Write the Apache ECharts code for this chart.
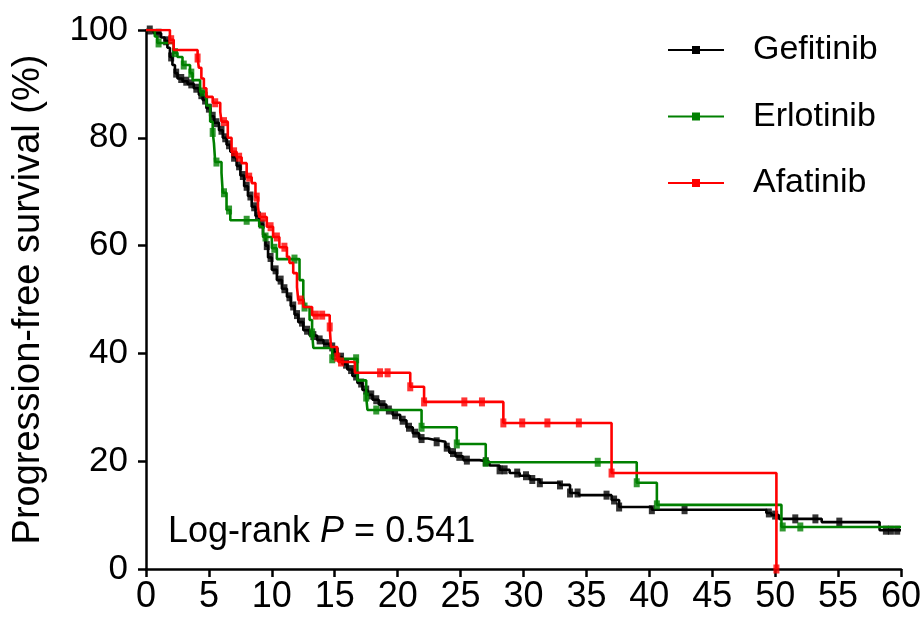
<!DOCTYPE html>
<html>
<head>
<meta charset="utf-8">
<script src="https://cdn.jsdelivr.net/npm/echarts@6/dist/echarts.min.js"></script>
<style>
  html, body { margin: 0; padding: 0; background: #fff; }
  #main { width: 924px; height: 627px; }
</style>
</head>
<body>
<div id="main"></div>
<script>
// Kaplan-Meier steps: [month, survival %] (value after the drop)
var gefitinibSteps = [
    [0, 100], [0.6, 99.4], [1.2, 98.6], [1.5, 98], [1.7, 96.7], [1.9, 95], [2.1, 93.5], [2.3, 92],
    [2.5, 91], [2.9, 90.5], [3.3, 90], [3.8, 89.2], [4.2, 88], [4.5, 87], [4.8, 85.5], [5.1, 84],
    [5.4, 82.8], [5.8, 81.4], [6.1, 80], [6.4, 78.7], [6.7, 77.4], [6.9, 76.4], [7.2, 74.8], [7.5, 73],
    [7.8, 71], [8.1, 69.2], [8.4, 67.2], [8.7, 65.5], [9.0, 64], [9.3, 62], [9.5, 60], [9.7, 57.8],
    [10.0, 55.5], [10.4, 53.6], [10.8, 52], [11.2, 50.5], [11.5, 48.8], [11.8, 47.2], [12.1, 45.8],
    [12.5, 44.3], [13.0, 43.3], [13.6, 42.5], [14.1, 41.8], [14.6, 41.2], [14.9, 40.2], [15.2, 39.3],
    [15.6, 38], [16.0, 37], [16.4, 35.8], [16.8, 34.5], [17.2, 33.2], [17.6, 32.3], [18.0, 31.4],
    [18.5, 30.5], [19.1, 29.5], [19.6, 28.6], [20.2, 27.6], [20.7, 26.3], [21.2, 25.2], [21.7, 24.2],
    [22.4, 23.9], [23.1, 23.6], [23.8, 22.6], [24.1, 21.6], [24.6, 20.9], [25.2, 20.2], [26.5, 19.9],
    [27.3, 19.2], [28.1, 18.4], [28.9, 17.8], [29.7, 17.3], [30.5, 16.6], [31.3, 16], [32.9, 15.6],
    [33.7, 14.1], [34.4, 13.7], [37.0, 12.8], [37.6, 11.5], [40.2, 11.0], [49.3, 10.4], [49.7, 10],
    [50.3, 9.3], [53.7, 8.7], [58.3, 7.2], [60, 7.2]
];
var erlotinibSteps = [
    [0, 100], [0.7, 98.8], [0.9, 97.6], [2.2, 95.8], [2.5, 95], [2.9, 93.5], [3.5, 92], [3.7, 90.7],
    [4.3, 88.5], [4.8, 86], [5.1, 83], [5.3, 81], [5.4, 79], [5.5, 75.5], [6.0, 73.5], [6.1, 69.8],
    [6.4, 66.6], [6.7, 64.7], [9.0, 63.5], [9.3, 61.6], [10.0, 59.5], [10.4, 57.5], [12.2, 53.6],
    [12.5, 50.5], [12.6, 48.6], [13.0, 46.2], [13.2, 43.8], [13.3, 41], [14.8, 39], [16.8, 35],
    [17.5, 31.9], [17.6, 29.5], [21.9, 26.3], [24.7, 23.2], [27.0, 19.8], [39.0, 16], [40.6, 11.9],
    [50.5, 7.8], [60, 7.8]
];
var afatinibSteps = [
    [0, 100], [1.9, 98.2], [2.2, 96.3], [4.1, 94.8], [4.2, 93], [4.4, 91], [4.6, 89.2], [4.8, 87.6],
    [5.3, 86.5], [5.9, 84.8], [6.0, 83], [6.5, 80], [6.8, 77.4], [7.2, 76.4], [7.6, 75.3], [8.0, 72.7],
    [8.4, 71.6], [8.7, 69], [8.9, 67.2], [9.0, 65.3], [9.6, 63.5], [10.1, 61.6], [10.6, 59.7],
    [11.2, 57.9], [11.4, 56.8], [11.7, 54.9], [12.0, 52.3], [12.1, 49.9], [12.5, 48.6], [13.2, 47.1],
    [14.6, 44.9], [14.7, 41.2], [15.2, 39.3], [15.3, 38.4], [16.6, 36.4], [21.0, 33.8], [22.1, 31],
    [28.4, 27.1], [37.0, 17.8], [50.1, 0]
];

// censoring times (months)
var gefitinibCensor = [
    0.3, 1.0, 1.6, 2.0, 2.4, 2.8, 3.2, 3.6, 4.0, 4.4, 4.7, 5.0, 5.3, 5.6, 6.0, 6.3, 6.6, 7.0, 7.4,
    7.7, 8.0, 8.3, 8.6, 8.9, 9.2, 9.6, 9.9, 10.3, 10.7, 11.0, 11.4, 11.7, 12.0, 12.4, 12.8, 13.3,
    13.8, 14.3, 14.8, 15.1, 15.5, 15.9, 16.3, 16.7, 17.1, 17.5, 17.9, 18.3, 18.8, 19.3, 19.8, 20.4,
    20.9, 21.4, 21.9, 23.1, 23.9, 24.4, 24.9, 25.5, 27.0, 28.1, 28.5, 29.5, 30.2, 30.7, 31.3, 32.9,
    33.7, 34.3, 36.6, 37.2, 37.6, 40.2, 42.8, 49.5, 50.0, 51.6, 53.2, 55.1, 58.8, 59.2, 59.7
];
var erlotinibCensor = [
    1.0, 2.3, 3.0, 3.6, 4.5, 5.3, 5.6, 6.2, 6.6, 8.0, 9.5, 10.2, 11.8, 12.6, 13.2, 14.8, 16.7,
    17.5, 18.3, 21.9, 24.7, 27.0, 35.9, 39.0, 40.6, 50.6, 52.0
];
var afatinibCensor = [
    2.0, 4.1, 5.5, 6.2, 7.0, 7.4, 8.2, 8.8, 9.3, 9.9, 10.4, 11.0, 12.3, 13.5, 14.0, 14.6, 15.2,
    15.5, 18.6, 19.2, 21.0, 22.1, 25.3, 26.7, 28.4, 29.9, 31.9, 34.4, 37.0, 50.1
];

var groups = ['Gefitinib', 'Erlotinib', 'Afatinib'];
var colors = ['#000000', '#008000', '#ff0000'];
var xTicks = { min: 0, max: 60, interval: 5 };
var yTicks = { min: 0, max: 100, interval: 20 };

// survival value of a step curve at time t
function survAt(steps, t) {
    var s = steps[0][1];
    for (var i = 0; i < steps.length; i++) {
        if (steps[i][0] <= t) s = steps[i][1];
    }
    return s;
}

function censorPoints(steps, times) {
    return times.map(function (t) { return [t, survAt(steps, t)]; });
}

var allSteps = [gefitinibSteps, erlotinibSteps, afatinibSteps];
var allCensor = [gefitinibCensor, erlotinibCensor, afatinibCensor];

var series = [];
groups.forEach(function (name, i) {
    series.push({
        name: name,
        type: 'line',
        step: 'end',
        data: allSteps[i],
        showSymbol: false,
        symbol: 'rect',
        symbolSize: [6, 8],
        lineStyle: { color: colors[i], width: 2.6 },
        itemStyle: { color: colors[i] },
        z: 2 + i,
        animation: false
    });
    series.push({
        name: name + ' censored',
        type: 'scatter',
        data: censorPoints(allSteps[i], allCensor[i]),
        symbol: 'rect',
        symbolSize: [6, 9],
        itemStyle: { color: colors[i] },
        z: 2 + i,
        animation: false
    });
});

var chart = echarts.init(document.getElementById('main'));
var font = 'Liberation Sans, Arial, sans-serif';

chart.setOption({
    backgroundColor: '#fff',
    animation: false,
    grid: { left: 146, right: 22, top: 30, bottom: 58 },
    legend: {
        data: groups,
        orient: 'vertical',
        left: 662,
        top: 28,
        itemWidth: 56,
        itemHeight: 10,
        itemGap: 32.5,
        textStyle: { fontSize: 34, color: '#000', fontFamily: font, padding: [0, 0, 0, 24] }
    },
    xAxis: {
        type: 'value',
        min: xTicks.min, max: xTicks.max, interval: xTicks.interval,
        axisLine: { onZero: false, lineStyle: { color: '#000', width: 2.5 } },
        axisTick: { length: 8, lineStyle: { color: '#000', width: 2.5 } },
        axisLabel: { fontSize: 36, color: '#000', fontFamily: font, margin: 10 },
        splitLine: { show: false }
    },
    yAxis: {
        type: 'value',
        min: yTicks.min, max: yTicks.max, interval: yTicks.interval,
        name: 'Progression-free survival (%)',
        nameLocation: 'middle',
        nameGap: 98,
        nameTextStyle: { fontSize: 38, color: '#000', fontFamily: font },
        axisLine: { show: true, onZero: false, lineStyle: { color: '#000', width: 2.5 } },
        axisTick: { show: true, length: 8, lineStyle: { color: '#000', width: 2.5 } },
        axisLabel: { fontSize: 35, color: '#000', fontFamily: font, margin: 18 },
        splitLine: { show: false }
    },
    graphic: [{
        type: 'text',
        left: 168,
        top: 514,
        style: {
            text: '{a|Log-rank }{b|P}{a| = 0.541}',
            rich: {
                a: { fontSize: 36, fill: '#000', fontFamily: font },
                b: { fontSize: 36, fill: '#000', fontFamily: font, fontStyle: 'italic' }
            }
        }
    }],
    series: series
});
</script>
</body>
</html>
